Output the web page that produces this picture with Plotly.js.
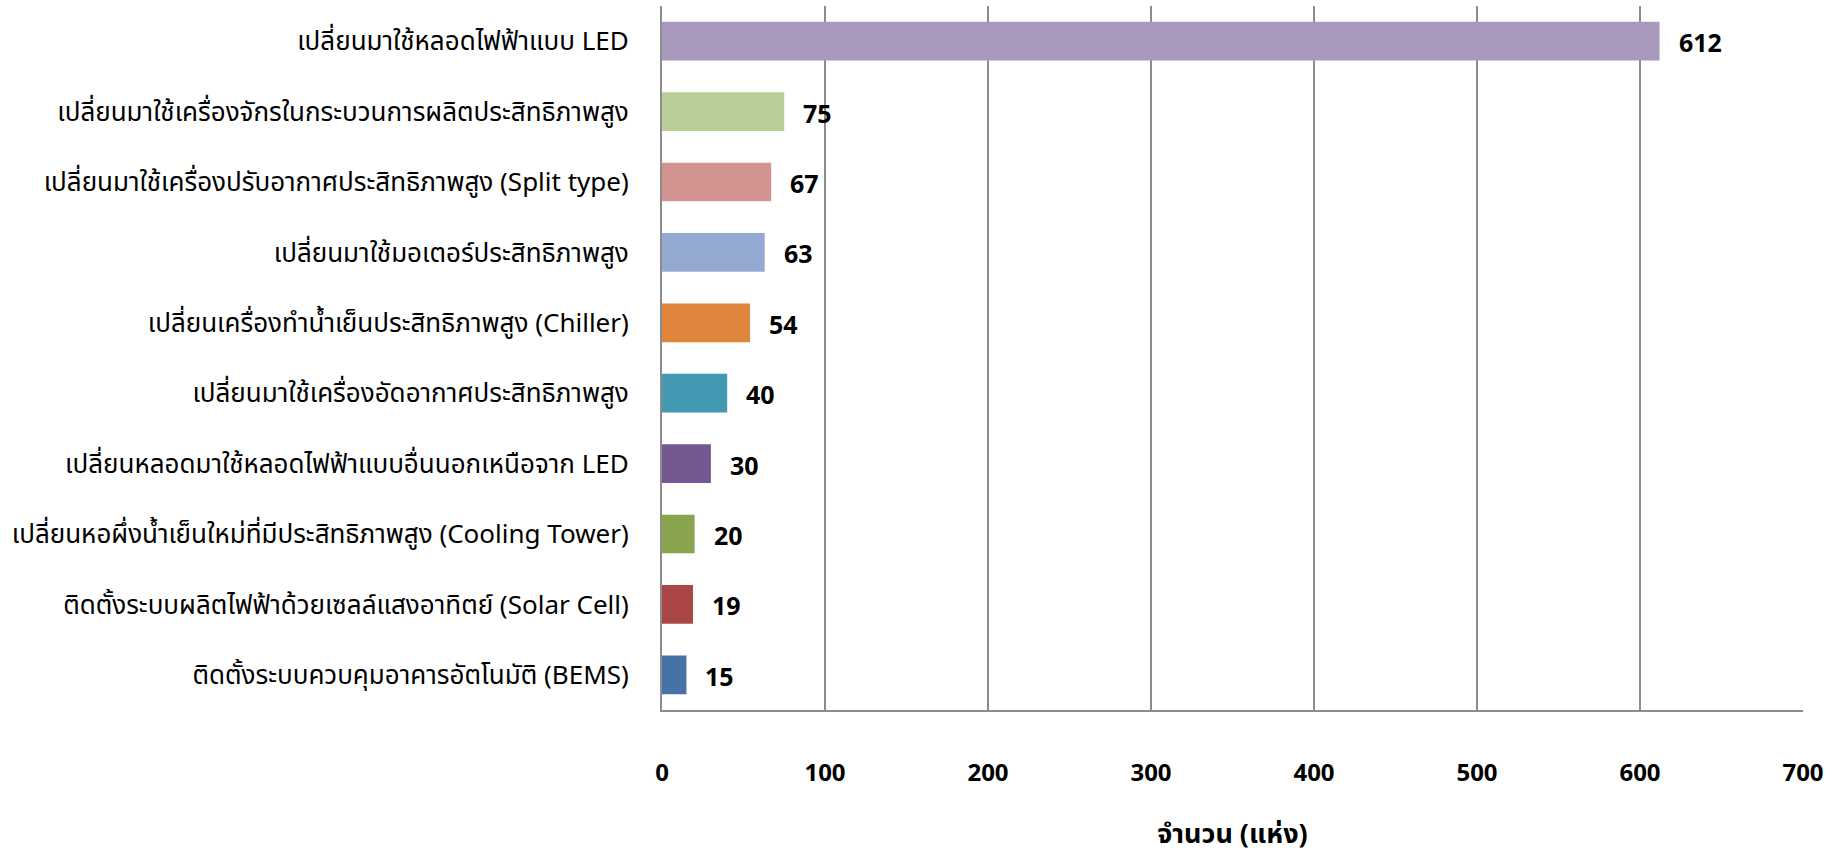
<!DOCTYPE html>
<html>
<head>
<meta charset="utf-8">
<script src="https://cdn.plot.ly/plotly-3.0.1.min.js"></script>
<style>
html, body { margin: 0; padding: 0; background: #ffffff; }
#chart { width: 1839px; height: 855px; }
</style>
</head>
<body>
<div id="chart"></div>
<script>
const categories = [
  "เปลี่ยนมาใช้หลอดไฟฟ้าแบบ LED",
  "เปลี่ยนมาใช้เครื่องจักรในกระบวนการผลิตประสิทธิภาพสูง",
  "เปลี่ยนมาใช้เครื่องปรับอากาศประสิทธิภาพสูง (Split type)",
  "เปลี่ยนมาใช้มอเตอร์ประสิทธิภาพสูง",
  "เปลี่ยนเครื่องทำน้ำเย็นประสิทธิภาพสูง (Chiller)",
  "เปลี่ยนมาใช้เครื่องอัดอากาศประสิทธิภาพสูง",
  "เปลี่ยนหลอดมาใช้หลอดไฟฟ้าแบบอื่นนอกเหนือจาก LED",
  "เปลี่ยนหอผึ่งน้ำเย็นใหม่ที่มีประสิทธิภาพสูง (Cooling Tower)",
  "ติดตั้งระบบผลิตไฟฟ้าด้วยเซลล์แสงอาทิตย์ (Solar Cell)",
  "ติดตั้งระบบควบคุมอาคารอัตโนมัติ (BEMS)"
];
const values = [612, 75, 67, 63, 54, 40, 30, 20, 19, 15];
const barColors = ["#A99ABD", "#BACF98", "#D39391", "#94AAD2", "#DF853C", "#4399B1", "#735892", "#88A44D", "#AA4744", "#4672A8"];
const xTickValues = [0, 100, 200, 300, 400, 500, 600, 700];
const xTitle = "จำนวน (แห่ง)";

const thaiFont = "Tahoma, 'Noto Sans Thai', 'Noto Sans Thai UI', 'Loma', 'Garuda', 'Noto Sans', sans-serif";

const trace = {
  type: "bar",
  orientation: "h",
  x: values,
  y: categories,
  marker: { color: barColors, line: { width: 0 } },
  width: 0.55,
  hoverinfo: "x+y"
};

const annotations = values.map((v, i) => ({
  x: v,
  y: categories[i],
  xref: "x",
  yref: "y",
  text: String(v),
  showarrow: false,
  xanchor: "left",
  yanchor: "middle",
  xshift: 17,
  yshift: -3,
  font: { family: thaiFont, size: 25, color: "#000000", weight: "bold" }
}));

const layout = {
  width: 1839,
  height: 855,
  paper_bgcolor: "#ffffff",
  plot_bgcolor: "#ffffff",
  margin: { l: 662, r: 36, t: 6, b: 145 },
  showlegend: false,
  bargap: 0.45,
  xaxis: {
    range: [0, 700],
    tickvals: xTickValues,
    ticktext: xTickValues.map(String),
    showgrid: true,
    gridcolor: "#8c8c8c",
    gridwidth: 1.5,
    zeroline: false,
    showline: true,
    linecolor: "#8c8c8c",
    linewidth: 2,
    ticks: "",
    ticklabelstandoff: 40,
    tickfont: { family: thaiFont, size: 24, color: "#000000", weight: "bold" },
    title: {
      text: xTitle,
      font: { family: thaiFont, size: 27, color: "#000000", weight: "bold" },
      standoff: 34
    },
    fixedrange: true
  },
  yaxis: {
    type: "category",
    categoryorder: "array",
    categoryarray: categories,
    autorange: "reversed",
    showgrid: false,
    zeroline: false,
    showline: true,
    linecolor: "#8c8c8c",
    linewidth: 2,
    ticks: "",
    ticklabelstandoff: 26,
    tickfont: { family: thaiFont, size: 26, color: "#000000" },
    fixedrange: true
  },
  annotations: annotations
};

Plotly.newPlot("chart", [trace], layout, { displayModeBar: false, staticPlot: true });
</script>
</body>
</html>
